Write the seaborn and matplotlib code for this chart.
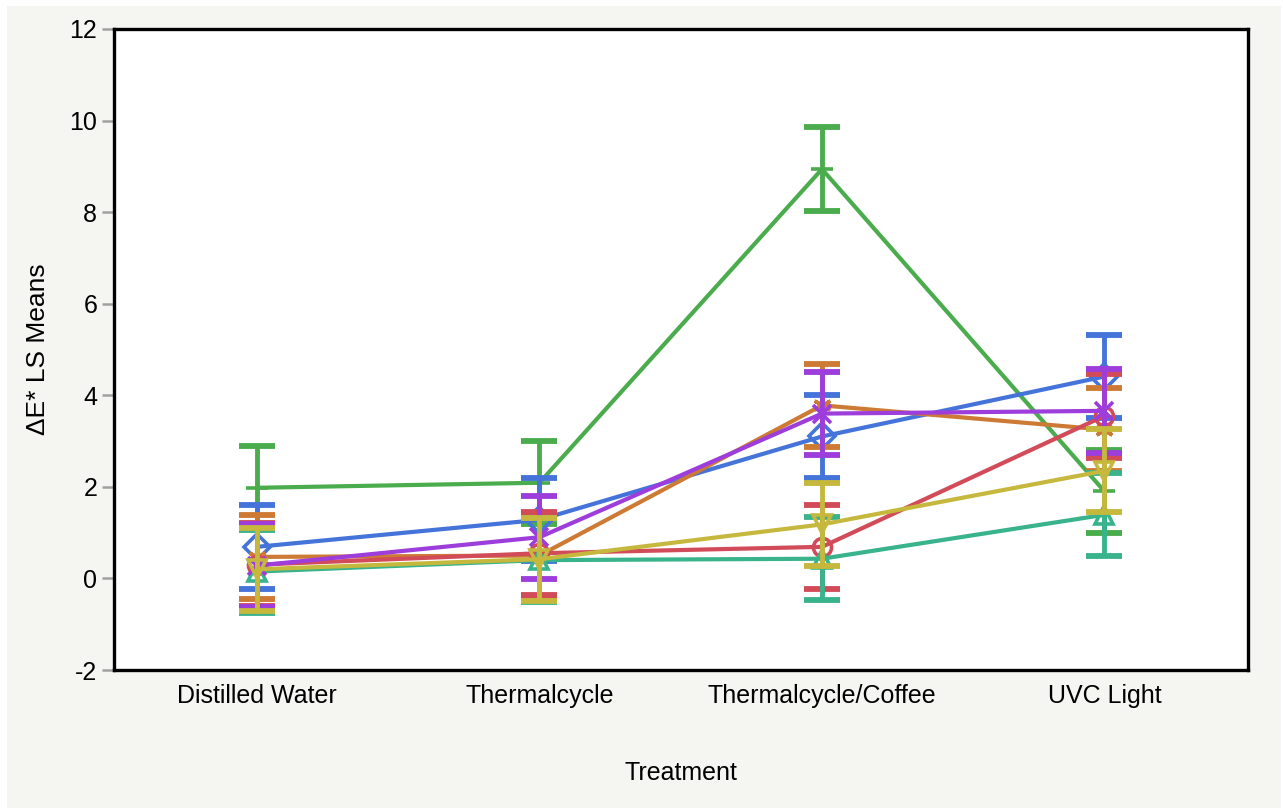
import numpy as np
import pandas as pd
import seaborn as sns
import matplotlib.pyplot as plt
from matplotlib.patches import Rectangle

# Treatment levels on the x axis
treatments = ["Distilled Water", "Thermalcycle", "Thermalcycle/Coffee", "UVC Light"]

# Least-squares means of colour change (Delta E*) for each material
green = [1.98, 2.09, 8.94, 1.90]
blue = [0.69, 1.28, 3.10, 4.41]
orange = [0.47, 0.50, 3.78, 3.25]
red = [0.30, 0.55, 0.69, 3.55]
teal = [0.15, 0.40, 0.43, 1.39]
purple = [0.28, 0.90, 3.60, 3.66]
yellow = [0.20, 0.42, 1.18, 2.35]

# Half-width of the error bars (standard error of each LS mean)
green_se = [0.91, 0.91, 0.91, 0.91]
blue_se = [0.91, 0.91, 0.91, 0.91]
orange_se = [0.91, 0.91, 0.91, 0.91]
red_se = [0.91, 0.91, 0.91, 0.91]
teal_se = [0.91, 0.91, 0.91, 0.91]
purple_se = [0.91, 0.91, 0.91, 0.91]
yellow_se = [0.91, 0.91, 0.91, 0.91]

yticks = [-2, 0, 2, 4, 6, 8, 10, 12]

series = {
    "Material 1": (green, green_se),
    "Material 2": (blue, blue_se),
    "Material 3": (orange, orange_se),
    "Material 4": (red, red_se),
    "Material 5": (teal, teal_se),
    "Material 6": (purple, purple_se),
    "Material 7": (yellow, yellow_se),
}
palette = {
    "Material 1": "#4aac4c",
    "Material 2": "#4473da",
    "Material 3": "#cd7a34",
    "Material 4": "#d24b59",
    "Material 5": "#38b38b",
    "Material 6": "#9d3ddb",
    "Material 7": "#c6b83c",
}
markers = {
    "Material 1": "_",
    "Material 2": "D",
    "Material 3": (6, 2, 0),
    "Material 4": "o",
    "Material 5": "^",
    "Material 6": "x",
    "Material 7": "v",
}

rows = []
for name, (means, ses) in series.items():
    for i, (t, m, s) in enumerate(zip(treatments, means, ses)):
        rows.append({"Material": name, "pos": i, "Treatment": t, "mean": m, "se": s})
df = pd.DataFrame(rows)

sns.set_theme(style="white")
plt.rcParams["font.family"] = ["Liberation Sans", "DejaVu Sans"]

fig = plt.figure(figsize=(12.83, 8.08), dpi=100, facecolor="white")
# light grey panel behind the whole chart
panel = Rectangle((7 / 1283, 0), 1274 / 1283, 802 / 808,
                  transform=fig.transFigure, facecolor="#f5f5f1",
                  edgecolor="none", zorder=-10)
fig.add_artist(panel)
ax = fig.add_axes([114 / 1283, 1 - 670 / 808, 1134 / 1283, 641 / 808])
ax.set_zorder(1)
ax.set_facecolor("white")

for k, name in enumerate(series):
    sub = df[df["Material"] == name]
    col = palette[name]
    z = 2 + k
    ax.errorbar(sub["pos"], sub["mean"], yerr=sub["se"], fmt="none",
                ecolor=col, elinewidth=3.5, capsize=13, capthick=4.2, zorder=z)
    sns.lineplot(data=sub, x="pos", y="mean", color=col, linewidth=3.0,
                 marker=markers[name], markersize=13 if name != "Material 1" else 16,
                 markerfacecolor="none", markeredgecolor=col, markeredgewidth=2.6,
                 ax=ax, zorder=z + 0.5, legend=False, errorbar=None)

ax.set_xlim(-0.506, 3.508)
ax.set_ylim(-2, 12)
ax.set_xticks(range(len(treatments)))
ax.set_xticklabels(treatments, fontsize=18, color="black")
ax.set_yticks(yticks)
ax.set_yticklabels([str(v) for v in yticks], fontsize=18, color="black")
ax.tick_params(axis="y", length=9, width=1.8, color="#a0a0a0", pad=3, left=True)
ax.tick_params(axis="x", length=0, pad=10)
ax.set_xlabel("Treatment", fontsize=18, labelpad=38, color="black")
ax.set_ylabel("ΔE* LS Means", fontsize=19, labelpad=14, color="black")
for s in ax.spines.values():
    s.set_visible(True)
    s.set_color("black")
    s.set_linewidth(2.4)

fig.savefig("out.png", dpi=100, facecolor=fig.get_facecolor())
